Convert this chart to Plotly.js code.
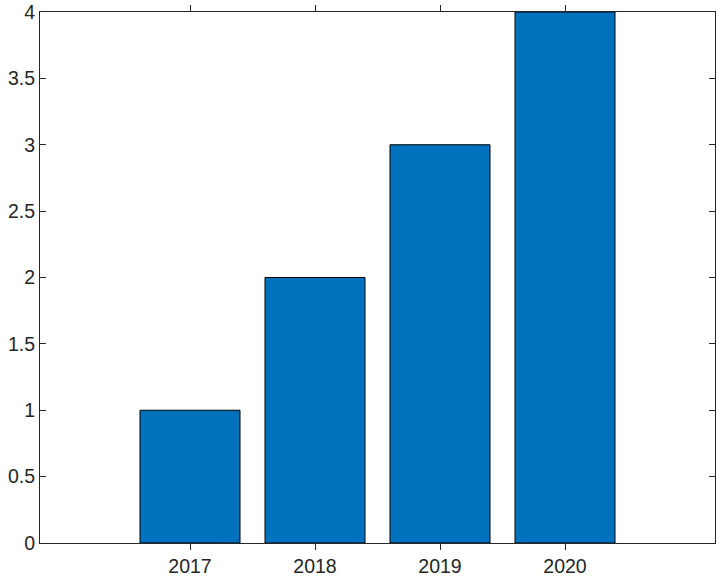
<!DOCTYPE html>
<html>
<head>
<meta charset="utf-8">
<script src="https://cdn.plot.ly/plotly-3.0.1.min.js"></script>
<style>html,body{margin:0;padding:0;background:#fff;}#chart{width:718px;height:583px;}</style>
</head>
<body>
<div id="chart"></div>
<script>
const years = [2017, 2018, 2019, 2020];
const values = [1, 2, 3, 4];
const yTicks = [0, 0.5, 1, 1.5, 2, 2.5, 3, 3.5, 4];
const yTickText = ['0', '0.5', '1', '1.5', '2', '2.5', '3', '3.5', '4'];

const trace = {
  type: 'bar',
  x: years,
  y: values,
  width: 0.8,
  marker: {color: '#0072BD', line: {color: '#000000', width: 1}},
  hoverinfo: 'none'
};

const axisFont = {family: 'Arial, "Liberation Sans", sans-serif', size: 19.5, color: '#262626'};

const layout = {
  width: 718,
  height: 583,
  margin: {l: 40, r: 3, t: 12, b: 40, pad: 0},
  paper_bgcolor: '#ffffff',
  plot_bgcolor: '#ffffff',
  showlegend: false,
  xaxis: {
    range: [2015.8, 2021.2],
    tickvals: years,
    ticktext: years.map(String),
    ticks: 'outside',
    ticklen: 6,
    tickcolor: '#262626',
    tickwidth: 1,
    showgrid: false,
    zeroline: false,
    showline: true,
    linecolor: '#262626',
    linewidth: 1,
    mirror: 'ticks',
    tickfont: axisFont,
    ticklabeloverflow: 'allow'
  },
  yaxis: {
    range: [0, 4],
    tickvals: yTicks,
    ticktext: yTickText,
    ticks: 'inside',
    ticklen: 6,
    tickcolor: '#262626',
    tickwidth: 1,
    showgrid: false,
    zeroline: false,
    showline: true,
    linecolor: '#262626',
    linewidth: 1,
    mirror: 'ticks',
    tickfont: axisFont,
    ticklabeloverflow: 'allow'
  }
};

Plotly.newPlot('chart', [trace], layout, {displayModeBar: false, staticPlot: true});
</script>
</body>
</html>
